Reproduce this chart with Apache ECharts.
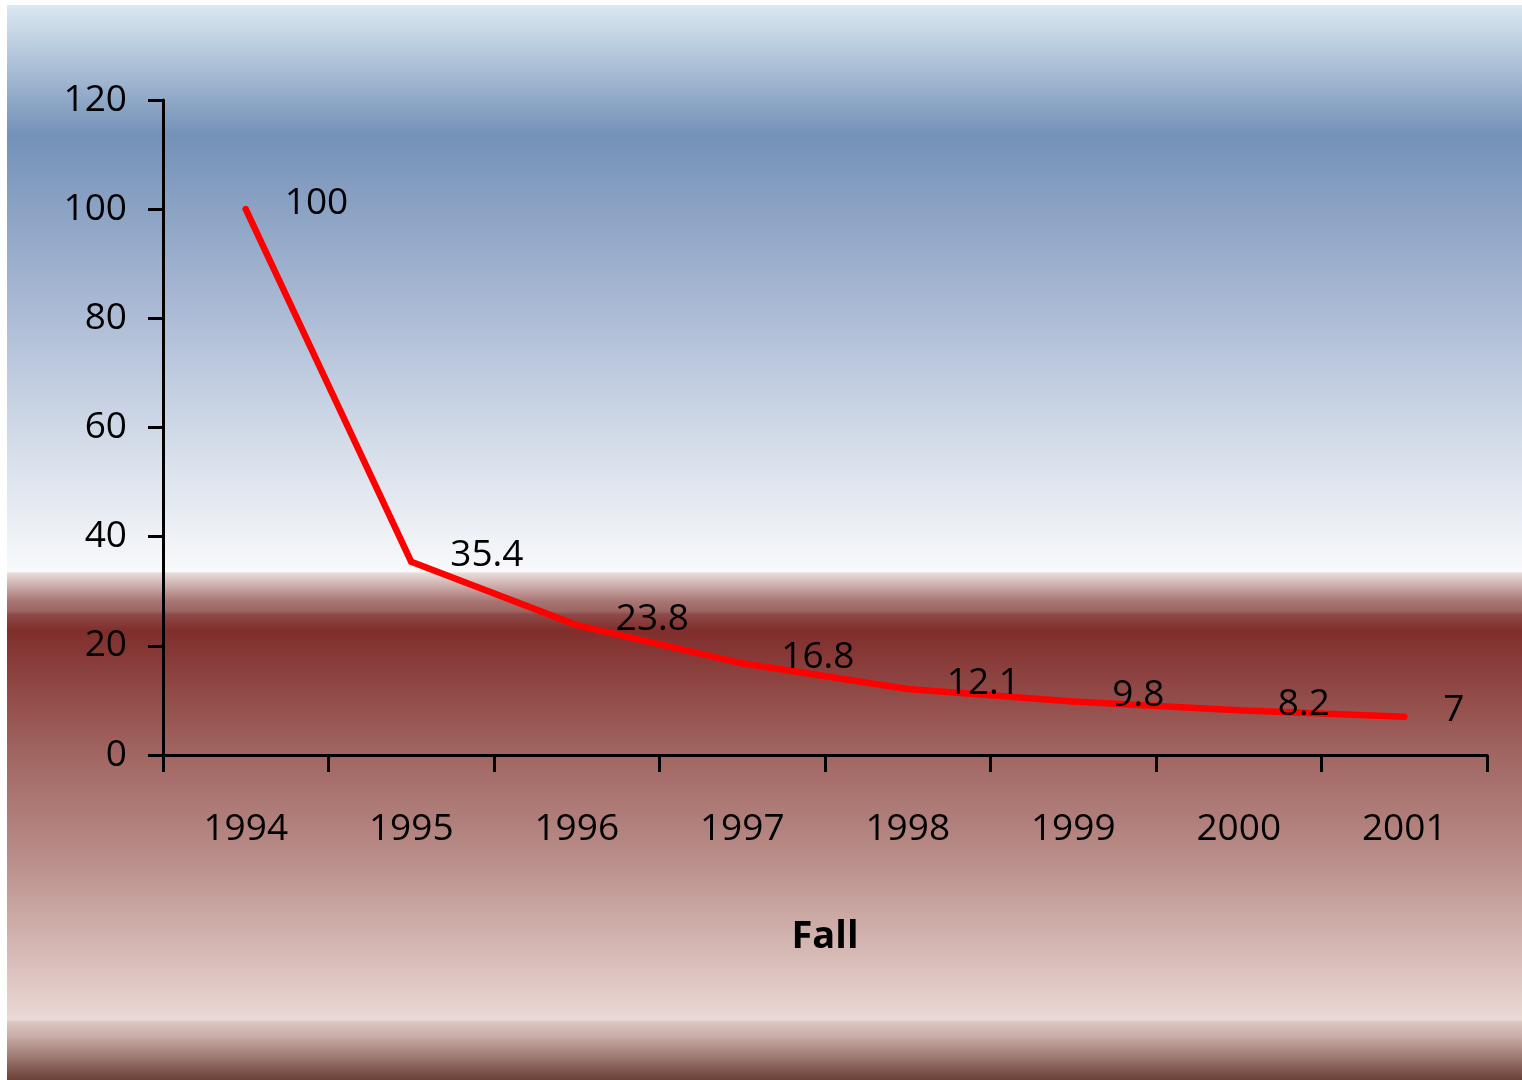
<!DOCTYPE html>
<html>
<head>
<meta charset="utf-8">
<script src="https://cdn.jsdelivr.net/npm/echarts@6/dist/echarts.min.js"></script>
<style>
html,body{margin:0;padding:0;background:#fff;}
#c{width:1522px;height:1080px;}
</style>
</head>
<body>
<div id="c"></div>
<script>
const categories = ['1994','1995','1996','1997','1998','1999','2000','2001'];
const values = [100, 35.4, 23.8, 16.8, 12.1, 9.8, 8.2, 7];
const yTicks = [0, 20, 40, 60, 80, 100, 120];
const axisName = 'Fall';

const FONT = "'Century Gothic', 'Open Sans', sans-serif";
const chart = echarts.init(document.getElementById('c'), null, {renderer: 'canvas'});

const bg = new echarts.graphic.LinearGradient(0, 0, 0, 1, [
  {offset: 0.000, color: '#dce8f2'},
  {offset: 0.121, color: '#7491b8'},
  {offset: 0.275, color: '#a8b8d3'},
  {offset: 0.414, color: '#d6deea'},
  {offset: 0.527, color: '#f8f9fb'},
  {offset: 0.5285, color: '#e8dcda'},
  {offset: 0.555, color: '#a87472'},
  {offset: 0.564, color: '#9b6562'},
  {offset: 0.567, color: '#8e4a48'},
  {offset: 0.582, color: '#802e2c'},
  {offset: 0.693, color: '#a06460'},
  {offset: 0.786, color: '#b78a86'},
  {offset: 0.944, color: '#ead9d5'},
  {offset: 0.946, color: '#dac6c2'},
  {offset: 0.960, color: '#c8aba6'},
  {offset: 1.000, color: '#6a4036'}
]);

chart.setOption({
  animation: false,
  backgroundColor: '#ffffff',
  graphic: [{
    type: 'rect', z: -100, silent: true,
    shape: {x: 7, y: 5, width: 1515, height: 1075},
    style: {fill: bg}
  }],
  grid: {left: 163, right: 35, top: 100, bottom: 325, containLabel: false},
  xAxis: {
    type: 'category',
    data: categories,
    boundaryGap: true,
    name: axisName,
    nameLocation: 'middle',
    nameGap: 163,
    nameTextStyle: {fontFamily: FONT, fontSize: 38, fontWeight: 'bold', color: '#000'},
    axisLine: {show: true, lineStyle: {color: '#000', width: 3}},
    axisTick: {show: true, length: 17, lineStyle: {color: '#000', width: 3}, alignWithLabel: false},
    axisLabel: {fontFamily: FONT, fontSize: 37, color: '#000', margin: 56},
    splitLine: {show: false}
  },
  yAxis: {
    type: 'value',
    min: yTicks[0],
    max: yTicks[yTicks.length - 1],
    interval: 20,
    axisLine: {show: true, lineStyle: {color: '#000', width: 3}},
    axisTick: {show: true, length: 15, lineStyle: {color: '#000', width: 3}},
    axisLabel: {fontFamily: FONT, fontSize: 37, color: '#000', margin: 36, padding: [0, 0, 6, 0]},
    splitLine: {show: false}
  },
  series: [{
    type: 'line',
    data: values,
    symbol: 'circle',
    symbolSize: 6,
    itemStyle: {color: '#ff0000'},
    lineStyle: {color: '#ff0000', width: 6.5, cap: 'round', join: 'round'},
    label: {
      show: true,
      position: 'right',
      distance: 36,
      offset: [0, -6],
      fontFamily: FONT,
      fontSize: 37,
      color: '#000'
    }
  }]
});
</script>
</body>
</html>
